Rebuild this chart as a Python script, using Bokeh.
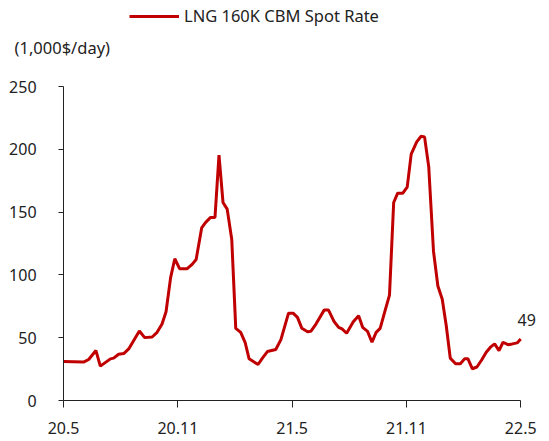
from bokeh.plotting import figure
from bokeh.models import Range1d, FixedTicker, Label, Legend, LegendItem, ColumnDataSource
from bokeh.embed import file_html
from bokeh.resources import INLINE

# months since 2020-05 (0 = 20.5, 24 = 22.5)
months = [0.0, 1.05, 1.32, 1.70, 1.93, 2.46, 2.63, 2.89, 3.16, 3.42, 3.98, 4.26, 4.65, 4.91,
          5.17, 5.38, 5.62, 5.84, 6.09, 6.49, 6.75, 6.96, 7.25, 7.46, 7.72, 7.95, 8.16, 8.37,
          8.59, 8.83, 9.04, 9.30, 9.53, 9.74, 10.21, 10.44, 10.70, 11.14, 11.41, 11.81, 12.05,
          12.28, 12.51, 12.81, 12.98, 13.25, 13.68, 13.91, 14.21, 14.44, 14.62, 14.86, 15.21,
          15.49, 15.70, 15.96, 16.19, 16.41, 16.62, 16.89, 17.11, 17.33, 17.54, 17.81, 18.04,
          18.25, 18.54, 18.77, 18.95, 19.17, 19.42, 19.65, 19.88, 20.09, 20.30, 20.58, 20.83,
          21.05, 21.23, 21.46, 21.70, 21.93, 22.19, 22.41, 22.63, 22.86, 23.07, 23.33, 23.56,
          23.81, 24.0]
rate = [31, 30.6, 32.7, 39.8, 27.4, 33.2, 33.8, 36.9, 37.4, 41.1, 55.4, 50.1, 50.6, 54.3,
        60.9, 70.7, 97.9, 112.9, 105, 105, 108.4, 112.3, 137.4, 141.9, 145.8, 145.8, 195.4, 157.7,
        152.4, 128.2, 57.5, 54.3, 46.4, 33.2, 28.7, 33.8, 39, 40.6, 48.5, 69.6, 69.6,
        66.2, 57.5, 54.8, 55.1, 60.9, 72, 72, 62.7, 58.3, 57, 53.6, 62.7,
        67.5, 58.3, 55.1, 46.4, 54.3, 57.5, 72.2, 83.9, 157.7, 165.1, 165.1, 169.9,
        196.2, 205.9, 210.4, 209.9, 186.2, 118.9, 91.2, 80.7, 59.6, 33.8, 29.3, 29.3,
        33.2, 33.2, 25.3, 26.7, 31.9, 38.5, 42.5, 45.1, 39.8, 46.4, 44.5, 45.1,
        45.9, 49]
tick_pos = [0, 6, 12, 18, 24]
tick_labels = ["20.5", "20.11", "21.5", "21.11", "22.5"]
y_ticks = [0, 50, 100, 150, 200, 250]
series_name = "LNG 160K CBM Spot Rate"
unit_text = "(1,000$/day)"

FONT = "Noto Sans"
RED = "#C00000"
INK = "#222222"

# frame covers the whole canvas; axes are pinned at 0 with bounds
p = figure(width=545, height=441, output_backend="svg", toolbar_location=None,
           x_range=Range1d(-3.31, 25.3), y_range=Range1d(-32.6, 318.5))
p.min_border = 0
p.outline_line_color = None
p.grid.visible = False

src = ColumnDataSource(dict(x=months, y=rate))
r = p.line("x", "y", source=src, line_color=RED, line_width=3)

for ax in (p.xaxis[0], p.yaxis[0]):
    ax.fixed_location = 0
    ax.axis_line_color = INK
    ax.major_tick_line_color = INK
    ax.minor_tick_line_color = None
    ax.major_tick_in = 0
    ax.major_label_text_font = FONT
    ax.major_label_text_font_size = "16px"
    ax.major_label_text_color = INK

p.xaxis.ticker = FixedTicker(ticks=tick_pos)
p.xaxis.bounds = (0, 24)
p.xaxis.major_label_overrides = {t: l for t, l in zip(tick_pos, tick_labels)}
p.xaxis.major_tick_out = 7
p.xaxis.major_label_standoff = 14
p.yaxis.ticker = FixedTicker(ticks=y_ticks)
p.yaxis.bounds = (0, 250)
p.yaxis.major_tick_out = 5
p.yaxis.major_label_standoff = 22

legend = Legend(items=[LegendItem(label=series_name, renderers=[r])],
                location=(129, 414), glyph_width=50, glyph_height=20, label_standoff=5,
                label_height=20, padding=0, margin=0, border_line_color=None,
                background_fill_alpha=0,
                label_text_font=FONT, label_text_font_size="16.5px", label_text_color=INK)
p.add_layout(legend)

p.add_layout(Label(x=0, y=250, x_offset=-49, y_offset=39, text=unit_text,
                   text_baseline="middle",
                   text_font=FONT, text_font_size="16.5px", text_color=INK))
p.add_layout(Label(x=months[-1], y=rate[-1], x_offset=6, y_offset=19,
                   text=f"{rate[-1]:.0f}", text_align="center", text_baseline="middle",
                   text_font=FONT, text_font_size="16px", text_color=INK))

open("out.html", "w").write(file_html(p, INLINE))
